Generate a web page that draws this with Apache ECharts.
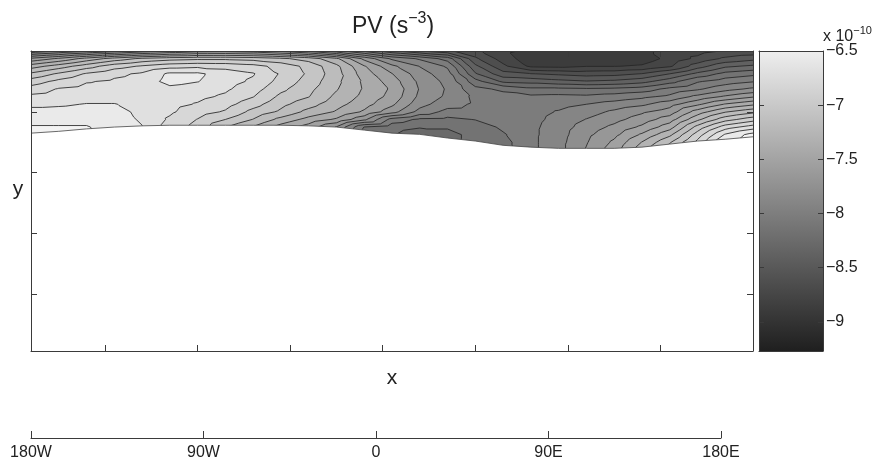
<!DOCTYPE html>
<html>
<head>
<meta charset="utf-8">
<title>PV</title>
<script src="https://cdn.jsdelivr.net/npm/echarts@6/dist/echarts.min.js"></script>
<style>
html, body { margin: 0; padding: 0; background: #fff; }
#main { width: 877px; height: 463px; }
</style>
</head>
<body>
<div id="main"></div>
<script>
// 网格列、行（坐标轴单位）
var xCols = [0, 0.3, 0.6, 0.9, 1.2, 1.5, 1.8, 2.1, 2.4, 2.7, 3.0, 3.3, 3.6, 3.9, 4.2, 4.5, 4.8, 5.1, 5.4, 5.7, 6.0, 6.3, 6.6, 6.9, 7.2, 7.5, 7.8];
var yRows = [0, 0.125, 0.25, 0.375, 0.5, 0.625, 0.75, 0.875, 1.0, 1.125, 1.25, 1.375, 1.5, 1.625];

// PV 值 (x 10^-10)，每行对应 yRows 中的一行
var pvRows = [
  [-8.10, -8.00, -7.90, -7.80, -7.70, -7.62, -7.56, -7.55, -7.58, -7.66, -7.78, -7.95, -8.15, -8.35, -8.50, -8.60, -8.72, -8.85, -8.90, -8.92, -8.92, -8.92, -8.90, -8.84, -8.80, -8.74, -8.72],
  [-7.60, -7.48, -7.33, -7.20, -7.10, -7.05, -7.03, -7.03, -7.05, -7.10, -7.18, -7.35, -7.66, -7.90, -8.02, -8.18, -8.60, -8.81, -8.95, -8.96, -8.96, -8.96, -8.94, -8.84, -8.72, -8.60, -8.54],
  [-7.31, -7.19, -7.06, -6.93, -6.86, -6.80, -6.78, -6.79, -6.83, -6.92, -7.04, -7.22, -7.49, -7.72, -7.88, -8.02, -8.47, -8.72, -8.90, -8.91, -8.88, -8.88, -8.86, -8.77, -8.56, -8.40, -8.35],
  [-7.10, -6.98, -6.86, -6.78, -6.73, -6.60, -6.60, -6.69, -6.74, -6.89, -7.02, -7.20, -7.44, -7.62, -7.82, -7.95, -8.36, -8.58, -8.62, -8.65, -8.68, -8.67, -8.62, -8.50, -8.34, -8.21, -8.16],
  [-6.94, -6.84, -6.76, -6.73, -6.70, -6.58, -6.62, -6.70, -6.77, -6.92, -7.05, -7.22, -7.40, -7.56, -7.78, -7.91, -8.20, -8.40, -8.42, -8.46, -8.49, -8.47, -8.42, -8.30, -8.14, -8.06, -8.01],
  [-6.82, -6.74, -6.71, -6.70, -6.68, -6.66, -6.69, -6.73, -6.82, -6.97, -7.09, -7.24, -7.39, -7.52, -7.76, -7.89, -8.09, -8.15, -8.22, -8.22, -8.23, -8.22, -8.19, -8.09, -8.02, -7.92, -7.85],
  [-6.72, -6.69, -6.67, -6.67, -6.67, -6.69, -6.72, -6.77, -6.87, -7.03, -7.12, -7.28, -7.41, -7.54, -7.78, -7.90, -8.03, -8.08, -8.10, -8.09, -8.10, -8.07, -8.03, -7.97, -7.84, -7.73, -7.64],
  [-6.65, -6.64, -6.62, -6.62, -6.66, -6.71, -6.76, -6.83, -6.95, -7.09, -7.20, -7.33, -7.45, -7.60, -7.83, -7.95, -8.02, -8.06, -8.06, -8.04, -8.00, -7.95, -7.90, -7.80, -7.65, -7.49, -7.40],
  [-6.59, -6.59, -6.58, -6.59, -6.65, -6.73, -6.82, -6.89, -7.04, -7.15, -7.29, -7.39, -7.52, -7.70, -7.92, -8.04, -8.05, -8.06, -8.05, -7.99, -7.93, -7.85, -7.77, -7.69, -7.44, -7.26, -7.16],
  [-6.54, -6.54, -6.54, -6.57, -6.64, -6.77, -6.88, -7.00, -7.13, -7.29, -7.42, -7.52, -7.72, -8.05, -8.15, -8.16, -8.12, -8.07, -8.04, -7.96, -7.87, -7.79, -7.69, -7.56, -7.28, -7.05, -6.93],
  [-6.49, -6.49, -6.49, -6.56, -6.62, -6.80, -6.92, -7.12, -7.26, -7.43, -7.56, -7.76, -8.13, -8.20, -8.24, -8.24, -8.20, -8.10, -8.03, -7.94, -7.82, -7.72, -7.60, -7.43, -7.08, -6.81, -6.69],
  [-6.47, -6.47, -6.47, -6.55, -6.62, -6.80, -6.93, -7.13, -7.27, -7.44, -7.57, -7.80, -8.20, -8.24, -8.32, -8.28, -8.22, -8.14, -8.03, -7.93, -7.78, -7.66, -7.48, -7.28, -6.94, -6.61, -6.45],
  [-6.47, -6.47, -6.47, -6.55, -6.62, -6.80, -6.93, -7.13, -7.27, -7.44, -7.57, -7.80, -8.22, -8.24, -8.32, -8.28, -8.22, -8.17, -8.03, -7.92, -7.76, -7.60, -7.37, -7.14, -6.84, -6.48, -6.40],
  [-6.47, -6.47, -6.47, -6.55, -6.62, -6.80, -6.93, -7.13, -7.27, -7.44, -7.57, -7.80, -8.22, -8.24, -8.32, -8.28, -8.22, -8.18, -8.03, -7.92, -7.74, -7.56, -7.30, -7.05, -6.80, -6.45, -6.40]
];

// 数据区域下边界（每列的 y）
var edgeY = [1.35, 1.32, 1.28, 1.25, 1.23, 1.22, 1.22, 1.22, 1.22, 1.22, 1.23, 1.25, 1.30, 1.35, 1.37, 1.43, 1.48, 1.55, 1.58, 1.60, 1.60, 1.60, 1.58, 1.53, 1.48, 1.45, 1.41];

// 等值线
var levels = [-9, -8.875, -8.75, -8.625, -8.5, -8.375, -8.25, -8.125, -8, -7.875, -7.75, -7.625, -7.5, -7.375, -7.25, -7.125, -7, -6.875, -6.75, -6.625, -6.5];

// 刻度
var xTicks = [0.8, 1.8, 2.8, 3.8, 4.8, 5.8, 6.8, 7.8];
var cbTicks = [-9, -8.5, -8, -7.5, -7, -6.5];
var lonTicks = [-180, -90, 0, 90, 180];

var fontFam = "'Liberation Sans', Arial, Helvetica, sans-serif";
var axisColor = '#3a3a3a';
var cbMin = -9.27, cbMax = -6.5;

// 灰度色标
function grayOf (v) {
    var g = Math.round(124 + (v + 8) * 73);
    g = Math.max(0, Math.min(255, g));
    return 'rgb(' + g + ',' + g + ',' + g + ')';
}

// 三角形按 v >= lev 裁剪
function clipTri (tri, lev) {
    var out = [];
    for (var k = 0; k < tri.length; k++) {
        var a = tri[k], b = tri[(k + 1) % tri.length];
        var ina = a[2] >= lev, inb = b[2] >= lev;
        if (ina) out.push(a);
        if (ina !== inb) {
            var t = (lev - a[2]) / (b[2] - a[2]);
            out.push([a[0] + t * (b[0] - a[0]), a[1] + t * (b[1] - a[1]), lev]);
        }
    }
    return out;
}

function crossSeg (tri, lev) {
    var pts = [];
    for (var k = 0; k < 3; k++) {
        var a = tri[k], b = tri[(k + 1) % 3];
        if ((a[2] >= lev) !== (b[2] >= lev)) {
            var t = (lev - a[2]) / (b[2] - a[2]);
            pts.push([a[0] + t * (b[0] - a[0]), a[1] + t * (b[1] - a[1])]);
        }
    }
    return pts;
}

function f2 (n) { return n.toFixed(2); }

function renderField (params, api) {
    var nodes = [];
    for (var j = 0; j < yRows.length; j++) {
        var row = [];
        for (var i = 0; i < xCols.length; i++) {
            var p = api.coord([xCols[i], yRows[j]]);
            row.push([p[0], p[1], pvRows[j][i]]);
        }
        nodes.push(row);
    }
    var tris = [];
    for (var j = 0; j < yRows.length - 1; j++) {
        for (var i = 0; i < xCols.length - 1; i++) {
            var a = nodes[j][i], b = nodes[j][i + 1], c = nodes[j + 1][i + 1], d = nodes[j + 1][i];
            tris.push([a, b, c], [a, c, d]);
        }
    }
    var children = [];
    var tl = nodes[0][0], br = nodes[yRows.length - 1][xCols.length - 1];
    children.push({
        type: 'rect',
        shape: { x: tl[0], y: tl[1], width: br[0] - tl[0], height: br[1] - tl[1] },
        style: { fill: grayOf(levels[0]) }
    });
    var lineD = '';
    levels.forEach(function (lev) {
        var d = '';
        tris.forEach(function (tri) {
            var poly = clipTri(tri, lev);
            if (poly.length >= 3) {
                d += 'M' + f2(poly[0][0]) + ' ' + f2(poly[0][1]);
                for (var k = 1; k < poly.length; k++) d += 'L' + f2(poly[k][0]) + ' ' + f2(poly[k][1]);
                d += 'Z';
            }
            var seg = crossSeg(tri, lev);
            if (seg.length === 2) {
                lineD += 'M' + f2(seg[0][0]) + ' ' + f2(seg[0][1]) + 'L' + f2(seg[1][0]) + ' ' + f2(seg[1][1]);
            }
        });
        if (d) {
            children.push({ type: 'path', shape: { pathData: d }, style: { fill: grayOf(lev + 0.125) } });
        }
    });
    children.push({
        type: 'path',
        shape: { pathData: lineD },
        style: { fill: 'none', stroke: '#262626', lineWidth: 0.85 }
    });
    // 下方无数据区域
    var edge = [];
    for (var i = 0; i < xCols.length; i++) edge.push(api.coord([xCols[i], edgeY[i]]));
    var mask = edge.slice();
    mask.push(api.coord([xCols[xCols.length - 1], 1.8]));
    mask.push(api.coord([xCols[0], 1.8]));
    children.push({ type: 'polygon', shape: { points: mask }, style: { fill: '#ffffff' } });
    children.push({ type: 'polyline', shape: { points: edge }, style: { fill: 'none', stroke: '#444', lineWidth: 0.8 } });
    return { type: 'group', children: children };
}

function renderBar (params, api) {
    var top = api.coord([0, cbMax]);
    var bot = api.coord([1, cbMin]);
    return {
        type: 'rect',
        shape: { x: top[0], y: top[1], width: bot[0] - top[0], height: bot[1] - top[1] },
        style: {
            fill: new echarts.graphic.LinearGradient(0, 0, 0, 1, [
                { offset: 0, color: '#eeeeee' },
                { offset: 1, color: grayOf(cbMin) }
            ])
        }
    };
}

function frameAxis (extra) {
    var base = {
        type: 'value',
        z: 10,
        axisLine: { show: true, onZero: false, lineStyle: { color: axisColor, width: 1 } },
        axisTick: { show: true, inside: true, length: 6, lineStyle: { color: axisColor, width: 1 } },
        axisLabel: { show: false },
        splitLine: { show: false }
    };
    return echarts.util.merge(base, extra, true);
}

function minusFmt (v) {
    return v < 0 ? '\u2212' + Math.abs(v) : String(v);
}

var myChart = echarts.init(document.getElementById('main'));
var option = {
    animation: false,
    backgroundColor: '#ffffff',
    grid: [
        { left: 31, top: 51, width: 722, height: 300 },
        { left: 759, top: 51, width: 64, height: 300 },
        { left: 31, top: 430, width: 690, height: 8 }
    ],
    xAxis: [
        frameAxis({ gridIndex: 0, position: 'bottom', min: 0, max: 7.8, axisTick: { customValues: xTicks } }),
        frameAxis({ gridIndex: 0, position: 'top', min: 0, max: 7.8, axisTick: { customValues: xTicks } }),
        frameAxis({ gridIndex: 1, position: 'bottom', min: 0, max: 1, axisTick: { show: false } }),
        frameAxis({ gridIndex: 1, position: 'top', min: 0, max: 1, axisTick: { show: false } }),
        frameAxis({
            gridIndex: 2, position: 'bottom', min: -180, max: 180, interval: 90,
            axisTick: { length: 7, customValues: lonTicks },
            axisLabel: {
                show: true, customValues: lonTicks, margin: 7, fontSize: 16, color: '#222', fontFamily: fontFam,
                formatter: function (v) { return v < 0 ? (-v) + 'W' : (v > 0 ? v + 'E' : '0'); }
            }
        })
    ],
    yAxis: [
        frameAxis({ gridIndex: 0, position: 'left', min: 0, max: 4.93, interval: 1, inverse: true }),
        frameAxis({ gridIndex: 0, position: 'right', min: 0, max: 4.93, interval: 1, inverse: true }),
        frameAxis({
            gridIndex: 1, position: 'right', min: cbMin, max: cbMax,
            axisTick: { length: 5, customValues: cbTicks },
            axisLabel: { show: true, customValues: cbTicks, margin: 3, fontSize: 16, color: '#222', fontFamily: fontFam, formatter: minusFmt }
        }),
        frameAxis({ gridIndex: 1, position: 'left', min: cbMin, max: cbMax, axisTick: { length: 5, customValues: cbTicks } }),
        { type: 'value', gridIndex: 2, show: false, min: 0, max: 1 }
    ],
    graphic: [
        {
            type: 'text', x: 393, y: 27,
            style: {
                text: '{a|PV (s}{b|\u22123}{a|)}', align: 'center', verticalAlign: 'middle',
                rich: {
                    a: { fontSize: 23, lineHeight: 32, fontFamily: fontFam, fill: '#222' },
                    b: { fontSize: 16, lineHeight: 32, verticalAlign: 'top', fontFamily: fontFam, fill: '#222' }
                }
            }
        },
        {
            type: 'text', x: 823, y: 37,
            style: {
                text: '{a|x 10}{b|\u221210}', align: 'left', verticalAlign: 'middle',
                rich: {
                    a: { fontSize: 16, lineHeight: 24, fontFamily: fontFam, fill: '#222' },
                    b: { fontSize: 11, lineHeight: 24, verticalAlign: 'top', fontFamily: fontFam, fill: '#222' }
                }
            }
        },
        { type: 'text', x: 392, y: 378, style: { text: 'x', fontSize: 21, fontFamily: fontFam, fill: '#222', align: 'center', verticalAlign: 'middle' } },
        { type: 'text', x: 18, y: 189, style: { text: 'y', fontSize: 21, fontFamily: fontFam, fill: '#222', align: 'center', verticalAlign: 'middle' } }
    ],
    series: [
        {
            type: 'custom', coordinateSystem: 'cartesian2d', xAxisIndex: 0, yAxisIndex: 0,
            data: [[0, 0]], renderItem: renderField, clip: true, silent: true
        },
        {
            type: 'custom', coordinateSystem: 'cartesian2d', xAxisIndex: 2, yAxisIndex: 2,
            data: [[0, -8]], renderItem: renderBar, silent: true
        }
    ]
};
myChart.setOption(option);
</script>
</body>
</html>
